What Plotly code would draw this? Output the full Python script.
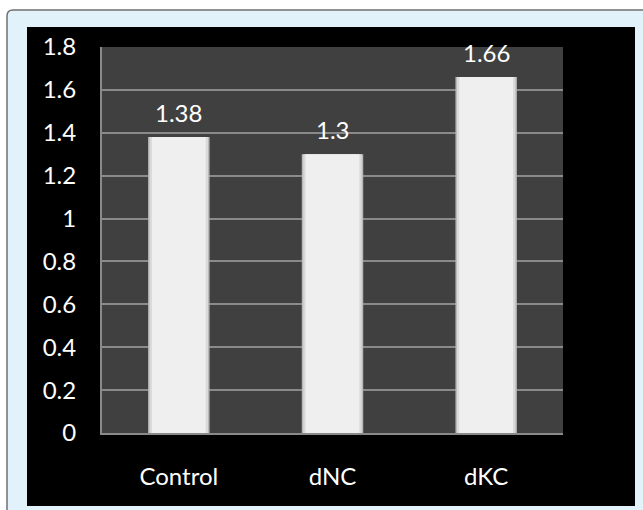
import plotly.graph_objects as go

categories = ["Control", "dNC", "dKC"]
values = [1.38, 1.3, 1.66]
value_labels = ["1.38", "1.3", "1.66"]
y_ticks = [0, 0.2, 0.4, 0.6, 0.8, 1.0, 1.2, 1.4, 1.6, 1.8]
y_tick_labels = ["0", "0.2", "0.4", "0.6", "0.8", "1", "1.2", "1.4", "1.6", "1.8"]

W, H = 643, 510
L, R, T, B = 102, 80, 47, 77
PW, PH = W - L - R, H - T - B


def px_x(p):
    return (p - L) / PW


def px_y(p):
    return (H - B - p) / PH


FONT = "Lato"
FS = 24

fig = go.Figure()
# layered bars for a bevel / shading look
for width, color in [(0.40, "#b8b8b8"), (0.38, "#dadada"), (0.35, "#efefef")]:
    fig.add_trace(go.Bar(
        x=categories, y=values, width=width,
        marker=dict(color=color, line=dict(width=0)),
        hoverinfo="skip", showlegend=False,
    ))

for c, v, t in zip(categories, values, value_labels):
    fig.add_annotation(x=c, y=v, text=t, showarrow=False, yshift=25,
                       font=dict(family=FONT, size=FS, color="white"))

shapes = [
    # light blue card with border
    dict(type="path", xref="paper", yref="paper", layer="below",
         path=("M {x0},{y1b} L {x0},{y1a} Q {x0},{y1} {x0a},{y1} L {x1},{y1} L {x1},{y0} L {x0},{y0} Z").format(
             x0=px_x(7), x0a=px_x(13), x1=px_x(650), y0=px_y(520), y1=px_y(10),
             y1a=px_y(16), y1b=px_y(520)),
         fillcolor="#e2f2fb", line=dict(color="#707070", width=1.5)),
    # black panel
    dict(type="rect", xref="paper", yref="paper", layer="below",
         x0=px_x(27), x1=px_x(635), y0=px_y(506), y1=px_y(27),
         fillcolor="#000000", line=dict(width=0)),
    # plot area background
    dict(type="rect", xref="paper", yref="paper", layer="below",
         x0=0, x1=1, y0=0, y1=1,
         fillcolor="#404040", line=dict(width=0)),
]

fig.update_layout(
    width=W, height=H,
    margin=dict(l=L, r=R, t=T, b=B, pad=0),
    paper_bgcolor="#ffffff",
    plot_bgcolor="#404040",
    barmode="overlay",
    shapes=shapes,
    font=dict(family=FONT, size=FS, color="white"),
    xaxis=dict(
        showgrid=False, showline=True, linecolor="#8a8a8a", linewidth=2,
        ticks="", tickfont=dict(family=FONT, size=FS, color="white"),
        ticklabelstandoff=21, fixedrange=True,
    ),
    yaxis=dict(
        range=[0, 1.8], tickmode="array", tickvals=y_ticks, ticktext=y_tick_labels,
        showgrid=True, gridcolor="#8a8a8a", gridwidth=2,
        showline=True, linecolor="#8a8a8a", linewidth=2,
        zeroline=False, ticks="",
        tickfont=dict(family=FONT, size=FS, color="white"),
        ticklabelstandoff=19, fixedrange=True,
    ),
)

fig.write_html("out.html")
